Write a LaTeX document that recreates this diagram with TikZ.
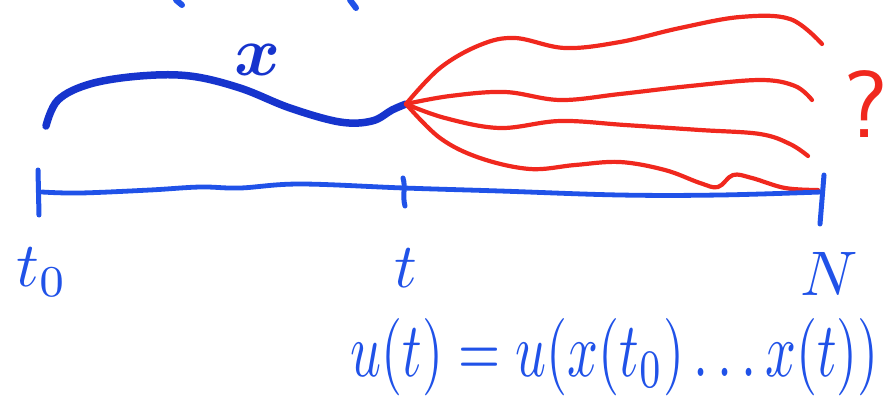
\documentclass[tikz,border=0pt]{standalone}
\usepackage{amsmath}
\begin{document}
\begin{tikzpicture}[x=1pt,y=-1pt,
  line cap=round,line join=round,
  traj/.style={draw=xblue,line width=7.5pt},
  fut/.style={draw=fred,line width=4.2pt},
  axisline/.style={draw=ablue,line width=4.8pt},
  tick/.style={draw=ablue,line width=5pt},
  lab/.style={text=ablue,inner sep=0pt,scale=6.3}
]
\definecolor{xblue}{RGB}{22,52,205}
\definecolor{ablue}{RGB}{32,82,232}
\definecolor{fred}{RGB}{240,40,30}
\useasboundingbox (0,0) rectangle (891,400);
% top fragments
\draw[ablue,line width=6pt] (176,0) -- (182,5);
\draw[ablue,line width=6pt] (350,0) -- (356,8);
% junction
\coordinate (j) at (406,104);
% blue trajectory x
\draw[traj] plot[smooth,tension=0.6] coordinates {(46,126) (58,100) (90,84) (140,76) (190,76) (240,88) (290,108) (340,122) (372,121) (392,110) (j)};
\node[text=xblue,inner sep=0pt,scale=7] (xl) at (258,60) {$\boldsymbol{x}$};
% red futures
\coordinate (e1) at (822,44);
\coordinate (e2) at (812,100);
\coordinate (e3) at (808,156);
\coordinate (e4) at (818,190);
\draw[fut] plot[smooth,tension=0.6] coordinates {(j) (440,68) (480,45) (515,38) (565,48) (620,42) (680,28) (740,17) (790,19) (e1)};
\draw[fut] plot[smooth,tension=0.6] coordinates {(j) (450,96) (505,92) (560,100) (620,94) (690,86) (760,80) (795,86) (e2)};
\draw[fut] plot[smooth,tension=0.6] coordinates {(j) (445,118) (500,128) (560,121) (625,125) (700,130) (760,134) (790,144) (e3)};
\draw[fut] plot[smooth,tension=0.6] coordinates {(j) (440,138) (480,158) (530,169) (575,165) (620,162) (665,170) (700,183) (718,187) (733,175) (752,178) (785,188) (e4)};
% question mark
\node[text=fred,inner sep=0pt,scale=9.5,font=\sffamily] (q) at (866,104) {?};
% axis
\coordinate (a0) at (42,192);
\coordinate (at) at (404,188);
\coordinate (aN) at (821,192);
\draw[axisline] plot[smooth,tension=0.6] coordinates {(a0) (80,193) (150,190) (200,187) (240,188) (300,184) (at) (500,191) (620,195) (720,195) (aN)};
\draw[tick] (38,170) -- (39,215);
\draw[tick] (403,178) .. controls (406,188) and (402,195) .. (405,206);
\draw[tick] (824,175) -- (820,224);
% labels
\node[lab] (t0) at (42,272) {$t_0$};
\node[lab] (tl) at (406,268) {$t$};
\node[lab] (N) at (829,274) {$N$};
% formula
\node[text=ablue,inner sep=0pt] (f) at (615,357) {\resizebox{528pt}{58pt}{$u(t) = u(x(t_0)\dots x(t))$}};
\end{tikzpicture}
\end{document}
